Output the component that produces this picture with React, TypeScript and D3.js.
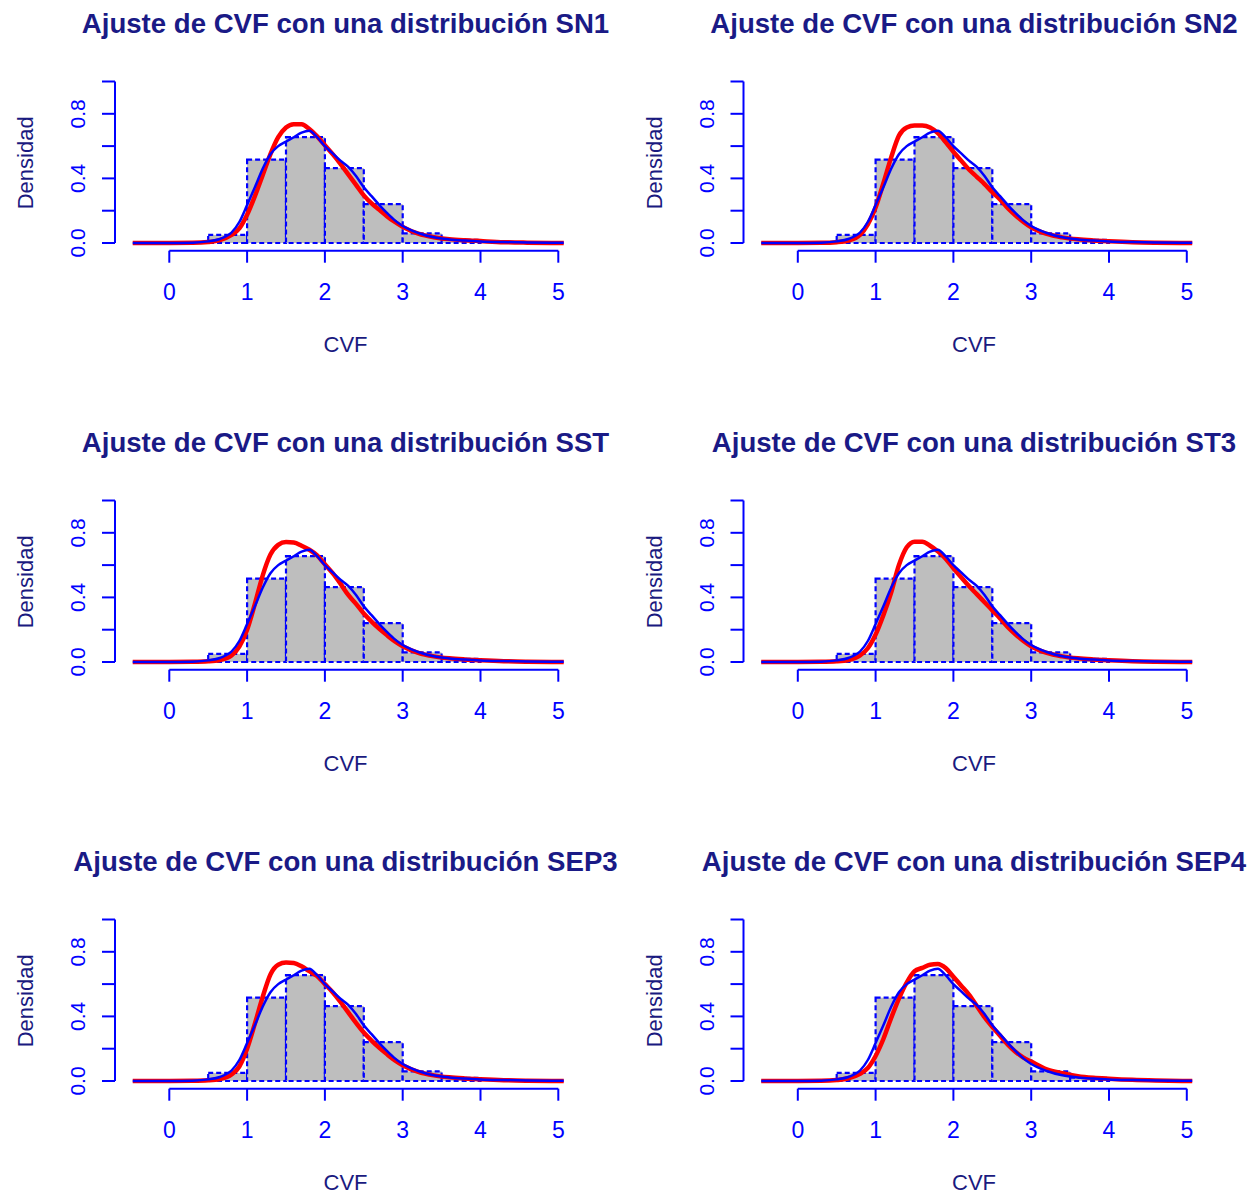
import React from 'react';
import * as d3 from 'd3';

// histogram of CVF (same data in every panel)
const binEdges = [0.5, 1, 1.5, 2, 2.5, 3, 3.5, 4];
const binDens = [0.05, 0.516, 0.655, 0.464, 0.241, 0.06, 0.02];

// x grid shared by the curves
const xGrid = [-0.47, 0, 0.3, 0.5, 0.65, 0.8, 0.9, 1.0, 1.1, 1.2, 1.3, 1.4, 1.5, 1.6, 1.7, 1.8, 1.9, 2.0,
  2.1, 2.2, 2.3, 2.4, 2.5, 2.6, 2.7, 2.8, 2.9, 3.0, 3.2, 3.4, 3.6, 3.8, 4.0, 4.3, 4.6, 5.07];

// kernel density (blue)
const kdeCVF = [0, 0, 0.002, 0.01, 0.025, 0.065, 0.13, 0.235, 0.345, 0.46, 0.55, 0.6, 0.628, 0.655, 0.683, 0.695,
  0.655, 0.6, 0.555, 0.51, 0.472, 0.415, 0.345, 0.29, 0.235, 0.185, 0.14, 0.105, 0.062, 0.035, 0.022, 0.015, 0.01,
  0.006, 0.003, 0.001];

// fitted densities (red)
const fitSN1 = [0, 0, 0.001, 0.006, 0.018, 0.05, 0.09, 0.175, 0.29, 0.42, 0.55, 0.655, 0.715, 0.736, 0.735, 0.705,
  0.66, 0.605, 0.55, 0.49, 0.425, 0.36, 0.295, 0.245, 0.205, 0.165, 0.13, 0.1, 0.058, 0.036, 0.024, 0.017, 0.012,
  0.005, 0.002, 0];
const fitSN2 = [0, 0, 0.001, 0.005, 0.015, 0.05, 0.115, 0.22, 0.37, 0.53, 0.665, 0.715, 0.727, 0.727, 0.715, 0.68,
  0.625, 0.565, 0.51, 0.455, 0.41, 0.365, 0.315, 0.27, 0.215, 0.17, 0.13, 0.097, 0.056, 0.035, 0.023, 0.016, 0.011,
  0.005, 0.002, 0];
const fitSST = [0, 0, 0.001, 0.004, 0.012, 0.04, 0.095, 0.2, 0.36, 0.535, 0.665, 0.725, 0.743, 0.74, 0.72, 0.695,
  0.66, 0.605, 0.55, 0.485, 0.415, 0.36, 0.3, 0.25, 0.205, 0.165, 0.128, 0.098, 0.057, 0.035, 0.023, 0.016, 0.011,
  0.005, 0.002, 0];
const fitST3 = [0, 0, 0.001, 0.004, 0.012, 0.04, 0.085, 0.17, 0.29, 0.43, 0.6, 0.71, 0.745, 0.745, 0.72, 0.685,
  0.64, 0.58, 0.525, 0.47, 0.42, 0.37, 0.32, 0.27, 0.215, 0.17, 0.13, 0.097, 0.056, 0.035, 0.023, 0.016, 0.011,
  0.005, 0.002, 0];
const fitSEP3 = [0, 0, 0.001, 0.004, 0.012, 0.04, 0.09, 0.2, 0.355, 0.52, 0.66, 0.72, 0.733, 0.73, 0.71, 0.68,
  0.65, 0.6, 0.55, 0.49, 0.425, 0.36, 0.3, 0.25, 0.205, 0.165, 0.128, 0.098, 0.057, 0.035, 0.023, 0.016, 0.011,
  0.005, 0.002, 0];
const fitSEP4 = [0, 0, 0.001, 0.006, 0.017, 0.045, 0.08, 0.155, 0.26, 0.39, 0.51, 0.61, 0.68, 0.7, 0.72, 0.725,
  0.7, 0.645, 0.59, 0.535, 0.465, 0.395, 0.335, 0.28, 0.225, 0.18, 0.145, 0.12, 0.072, 0.048, 0.03, 0.02, 0.014,
  0.007, 0.003, 0];

const distNames = ['SN1', 'SN2', 'SST', 'ST3', 'SEP3', 'SEP4'];
const fits = [fitSN1, fitSN2, fitSST, fitST3, fitSEP3, fitSEP4];

const xTicks = [0, 1, 2, 3, 4, 5];
const yTicks = [0, 0.2, 0.4, 0.6, 0.8, 1.0];
const yLabelTicks = [0, 0.4, 0.8];

const FONT = 'Liberation Sans, Arial, Helvetica, sans-serif';

const Panel = ({ idx }) => {
  const col = idx % 2;
  const row = Math.floor(idx / 2);
  const dx = col * 628.5;
  const dy = row * 419;

  const x = d3.scaleLinear().domain([0, 5]).range([169.3, 558.3]);
  const y = d3.scaleLinear().domain([0, 1]).range([243, 81.5]);

  const line = d3.line()
    .x((d) => x(d[0]))
    .y((d) => y(d[1]))
    .curve(d3.curveMonotoneX);

  const kdePts = xGrid.map((v, i) => [v, kdeCVF[i]]);
  const fitPts = xGrid.map((v, i) => [v, fits[idx][i]]);

  const axisY = 250.7;
  const axisX = 115;

  return (
    <g transform={`translate(${dx},${dy})`}>
      <text x={345.5} y={33} textAnchor="middle" fontFamily={FONT} fontWeight="bold"
        fontSize={27.6} fill="#1a1a86">
        {`Ajuste de CVF con una distribución ${distNames[idx]}`}
      </text>

      {/* histogram */}
      {binDens.map((d, i) => (
        <rect key={i} x={x(binEdges[i])} y={y(d)} width={x(binEdges[i + 1]) - x(binEdges[i])}
          height={y(0) - y(d)} fill="#bebebe" stroke="#0000ff" strokeWidth={2.2}
          strokeDasharray="5,3" />
      ))}

      <path d={line(fitPts)} fill="none" stroke="#ff0000" strokeWidth={4.5} strokeLinejoin="round" />
      <path d={line(kdePts)} fill="none" stroke="#0000ff" strokeWidth={2.5} strokeLinejoin="round" />

      {/* x axis */}
      <line x1={x(0)} x2={x(5)} y1={axisY} y2={axisY} stroke="#0000ff" strokeWidth={2} />
      {xTicks.map((t) => (
        <g key={t}>
          <line x1={x(t)} x2={x(t)} y1={axisY} y2={axisY + 12} stroke="#0000ff" strokeWidth={2} />
          <text x={x(t)} y={300} textAnchor="middle" fontFamily={FONT} fontSize={23} fill="#0000ff">{t}</text>
        </g>
      ))}
      <text x={345.5} y={352} textAnchor="middle" fontFamily={FONT} fontSize={22} fill="#1a1a80">CVF</text>

      {/* y axis */}
      <line x1={axisX} x2={axisX} y1={y(0)} y2={y(1)} stroke="#0000ff" strokeWidth={2} />
      {yTicks.map((t) => (
        <line key={t} x1={axisX - 13} x2={axisX} y1={y(t)} y2={y(t)} stroke="#0000ff" strokeWidth={2} />
      ))}
      {yLabelTicks.map((t) => (
        <text key={t} transform={`translate(85,${y(t)}) rotate(-90)`} textAnchor="middle"
          fontFamily={FONT} fontSize={21} fill="#0000ff">{t.toFixed(1)}</text>
      ))}
      <text transform="translate(33,162.8) rotate(-90)" textAnchor="middle" fontFamily={FONT}
        fontSize={22} fill="#1a1a80">Densidad</text>
    </g>
  );
};

export default function App() {
  return (
    <svg width={1254} height={1196} style={{ position: 'absolute', left: 0, top: 0, background: '#fff' }}>
      <rect width={1254} height={1196} fill="#ffffff" />
      {distNames.map((n, i) => <Panel key={n} idx={i} />)}
    </svg>
  );
}
